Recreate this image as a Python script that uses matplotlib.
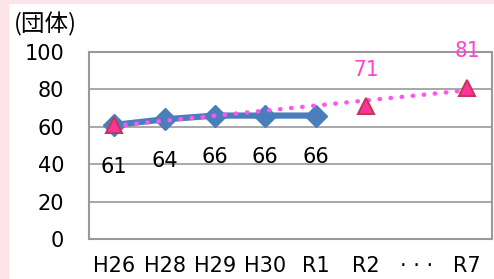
import matplotlib.pyplot as plt
from matplotlib.patches import Rectangle

categories = ['H26', 'H28', 'H29', 'H30', 'R1', 'R2', '· · ·', 'R7']
actual = [61, 64, 66, 66, 66]
target_idx = [0, 5, 7]
target = [61, 71, 81]
trend = [60.5, 79.5]  # dotted guide line H26 -> R7

fig = plt.figure(figsize=(4.94, 2.79), dpi=100)
fig.patch.set_facecolor('white')
# pink frame strips
fig.patches.append(Rectangle((0, 0), 8 / 494, 1, transform=fig.transFigure, color='#fde4e8', zorder=0))
fig.patches.append(Rectangle((0, 1 - 3 / 279), 1, 3 / 279, transform=fig.transFigure, color='#fde4e8', zorder=0))

ax = fig.add_axes([89 / 494, 1 - 239 / 279, 403 / 494, 187 / 279])
x = list(range(len(categories)))

ax.plot([target_idx[0], target_idx[-1]], trend, linestyle=(0, (0.1, 2.4)),
        dash_capstyle='round', color='#ff55ee', lw=3.2, zorder=3)
ax.plot(x[:len(actual)], actual, color='#4a7ebb', lw=4.5, marker='D', markersize=11,
        markeredgecolor='#4a7ebb', zorder=2)
ax.plot(target_idx, target, linestyle='none', marker='^', markersize=12,
        markerfacecolor='#ff3399', markeredgecolor='#c0395a', markeredgewidth=1.5, zorder=4)

for i, v in enumerate(actual):
    ax.annotate(str(v), (i, v), xytext=(0, -30), textcoords='offset points',
                ha='center', va='center', fontsize=15, color='black')
for i, v in zip(target_idx[1:], target[1:]):
    ax.annotate(str(v), (i, v), xytext=(0, 26), textcoords='offset points',
                ha='center', va='center', fontsize=15, color='#ff44cc', family='DejaVu Sans Mono')

ax.set_xlim(-0.5, len(categories) - 0.5)
ax.set_ylim(0, 100)
ax.set_yticks([0, 20, 40, 60, 80, 100])
ax.set_xticks(x)
ax.set_xticklabels(categories)
ax.tick_params(length=0, labelsize=15)
ax.tick_params(axis='y', pad=18)
ax.tick_params(axis='x', pad=12)
ax.grid(axis='y', color='#999999', lw=1.2)
ax.set_axisbelow(True)
for s in ax.spines.values():
    s.set_color('#999999')
    s.set_linewidth(1.5)

fig.text(14 / 494, 1 - 24 / 279, '(団体)', family=['Noto Sans CJK JP', 'DejaVu Sans'],
         fontsize=17, va='center', ha='left')

fig.savefig('out.png', dpi=100)
